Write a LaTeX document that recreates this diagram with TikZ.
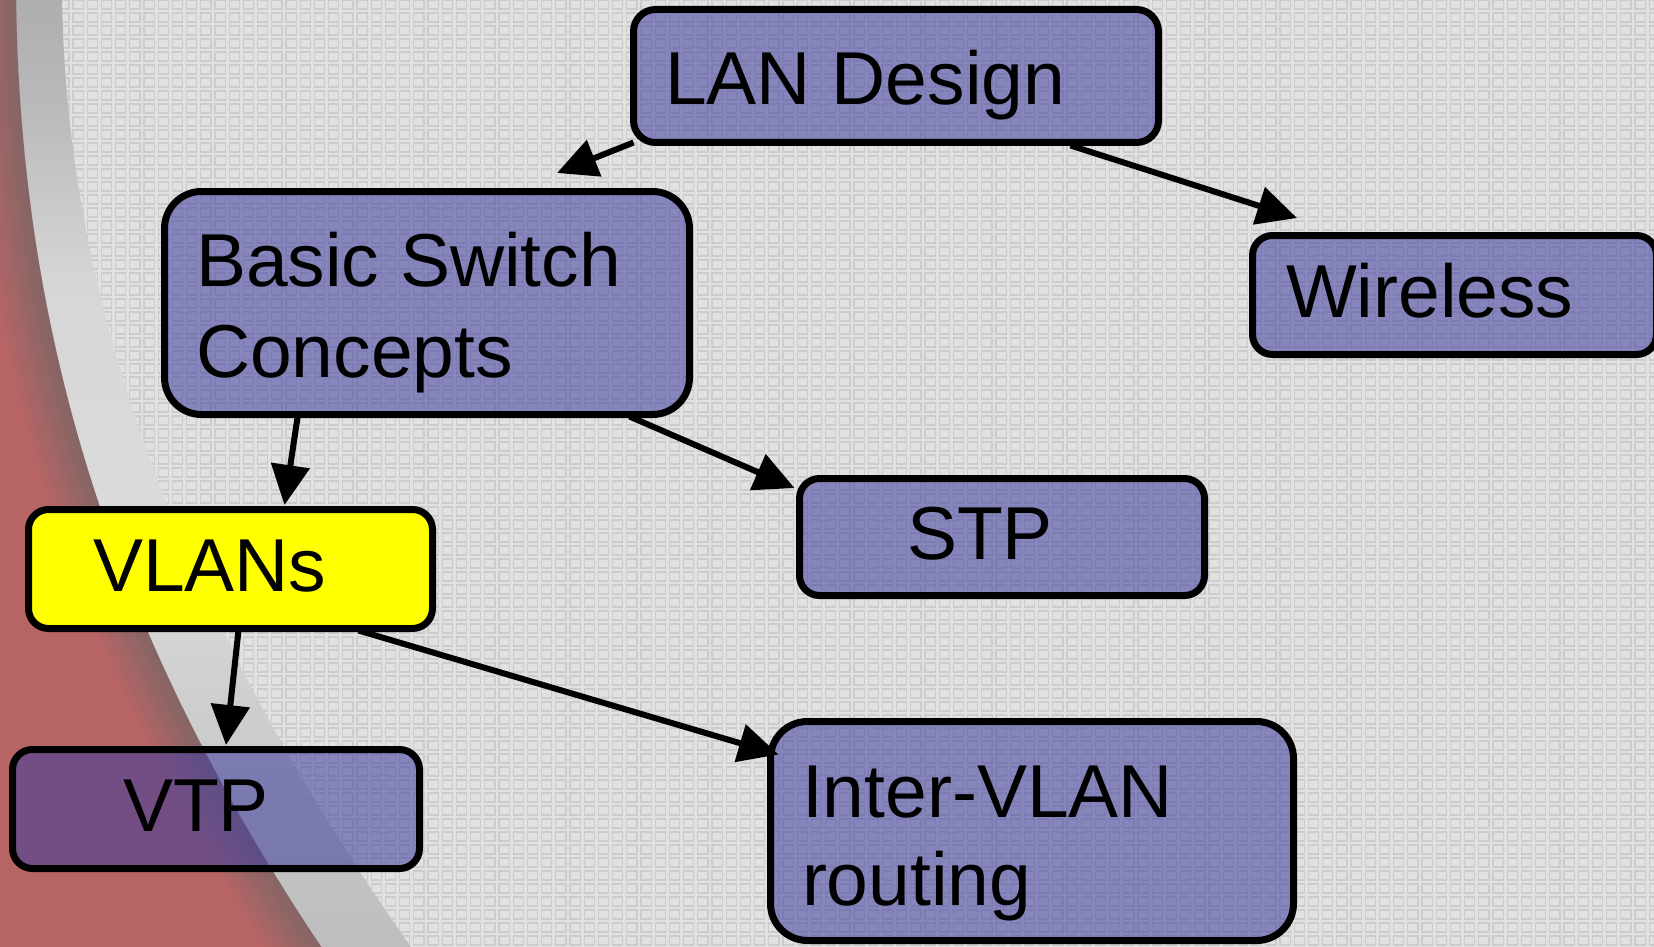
\documentclass[tikz,border=0pt]{standalone}
\usepackage{fontspec}
\setmainfont{Liberation Sans}
\usetikzlibrary{arrows.meta,patterns,calc}
\pgfdeclarepatternformonly{cellgrid}{\pgfqpoint{-1pt}{-1pt}}{\pgfqpoint{15.2pt}{14pt}}{\pgfqpoint{14.2pt}{13pt}}{%
  \pgfsetlinewidth{1.2pt}%
  \pgfpathrectangle{\pgfqpoint{2pt}{2pt}}{\pgfqpoint{10.2pt}{9pt}}%
  \pgfusepath{stroke}%
}
\pgfdeclareverticalshading{bandsh}{100bp}{%
  rgb(0bp)=(0.74,0.74,0.74);
  rgb(25bp)=(0.74,0.74,0.74);
  rgb(35bp)=(0.79,0.79,0.79);
  rgb(47bp)=(0.86,0.86,0.86);
  rgb(60bp)=(0.84,0.84,0.84);
  rgb(69bp)=(0.73,0.73,0.74);
  rgb(75bp)=(0.68,0.68,0.69);
  rgb(100bp)=(0.68,0.68,0.69)}
\definecolor{bggray}{RGB}{225,225,225}
\definecolor{cellc}{RGB}{204,204,204}
\definecolor{redbg}{RGB}{182,100,100}
\definecolor{shadowc}{RGB}{90,115,115}
\definecolor{boxblue}{RGB}{60,60,160}
\definecolor{vyellow}{RGB}{255,255,0}
\begin{document}
\begin{tikzpicture}[x=1pt,y=-1pt,
  bx/.style={draw=black, line width=7pt, rounded corners=#1, fill=boxblue, fill opacity=0.55, anchor=north west, inner sep=0pt, outer sep=0pt},
  ybx/.style={bx=#1, fill=vyellow, fill opacity=1},
  lbl/.style={anchor=base west, inner sep=0pt, outer sep=0pt, font=\fontsize{75}{90}\selectfont},
  arr/.style={line width=6pt, -{Triangle[length=40pt,width=38pt]}},
  shd/.style={line width=#1, shadowc, opacity=0.07},
]
\useasboundingbox (0,0) rectangle (1654,947);
% background
\fill[bggray] (0,0) rectangle (1654,947);
\fill[pattern=cellgrid, pattern color=cellc] (0,0) rectangle (1654,947);
% grey swoosh band
\shade[shading=bandsh]
  (16,-5) .. controls (20,350) and (120,650) .. (330,960) -- (420,960)
  .. controls (200,650) and (66,330) .. (62,-5) -- cycle;
% red region
\fill[redbg] (-5,-5) -- (16,-5) .. controls (20,350) and (120,650) .. (330,960) -- (-5,960) -- cycle;
\begin{scope}
  \clip (-5,-5) -- (16,-5) .. controls (20,350) and (120,650) .. (330,960) -- (-5,960) -- cycle;
  \foreach \w in {90,78,66,54,44,34,24,14,6}
    \draw[shd=\w pt] (16,-5) .. controls (20,350) and (120,650) .. (330,960);
\end{scope}

% boxes
\node[bx=22, minimum width=525pt, minimum height=133pt] (lan) at (633.5,9.5) {};
\node[bx=37, minimum width=525pt, minimum height=223pt] (bsc) at (164.5,191.5) {};
\node[bx=20, minimum width=404pt, minimum height=119pt] (wir) at (1252.5,235.5) {};
\node[bx=20, minimum width=405pt, minimum height=117pt] (stp) at (799.5,478.5) {};
\node[ybx=20, minimum width=404pt, minimum height=119pt] (vlan) at (28.5,509.5) {};
\node[bx=20, minimum width=407pt, minimum height=119pt] (vtp) at (12.5,749.5) {};
\node[bx=37, minimum width=523pt, minimum height=219pt] (inter) at (770.5,721.5) {};

% labels
\node[lbl] (lanT) at (665,105) {LAN Design};
\node[lbl] (bscT1) at (196,286) {Basic Switch};
\node[lbl] (bscT2) at (196,377) {Concepts};
\node[lbl] (wirT) at (1286,317) {Wireless};
\node[lbl] (stpT) at (907,559) {STP};
\node[lbl] (vlanT) at (93,591) {VLANs};
\node[lbl] (vtpT) at (123,831) {VTP};
\node[lbl] (interT1) at (802,817) {Inter-VLAN};
\node[lbl] (interT2) at (802,905) {routing};

% connectors
\coordinate (t1) at (557,173);
\coordinate (t2) at (1297,218);
\draw[arr] (lan.south west) -- (t1);
\draw[arr] ($(lan.south east)+(-88,3)$) -- (t2);
\draw[arr] ($(bsc.south west)+(133,3)$) -- ($(vlan.north west)+(256,-4.5)$);
\draw[arr] ($(bsc.south east)+(-60,2)$) -- ($(stp.north west)+(-5,9.5)$);
\draw[arr] ($(vlan.south west)+(210,2)$) -- ($(vtp.north west)+(213.5,-4.5)$);
\draw[arr] ($(vlan.south west)+(330,2)$) -- ($(inter.north west)+(8,33)$);
\end{tikzpicture}
\end{document}
